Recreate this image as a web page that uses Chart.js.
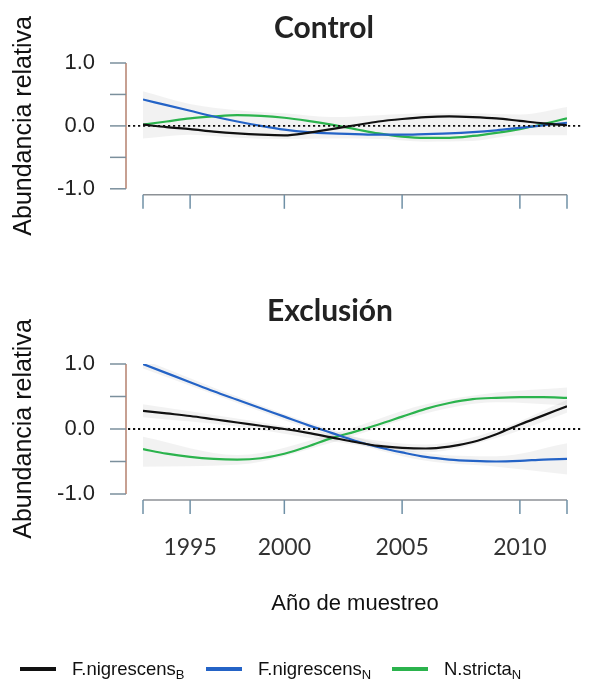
<!DOCTYPE html>
<html><head><meta charset="utf-8">
<script src="https://cdn.jsdelivr.net/npm/chart.js@4.4.1/dist/chart.umd.min.js"></script>
<style>
html,body{margin:0;padding:0;background:#fff;width:603px;height:680px;overflow:hidden;}
#wrapA{position:absolute;left:0;top:0;width:648px;height:250px;}
#wrapB{position:absolute;left:0;top:250px;width:660px;height:430px;}
#legend{position:absolute;left:0;top:655px;width:603px;height:28px;font-family:"Liberation Sans",Arial,sans-serif;font-size:18.5px;color:#111;}
.item{position:absolute;top:0;height:28px;display:flex;align-items:center;white-space:nowrap;}
.sw{display:inline-block;width:36px;height:3.5px;margin-right:16px;}
sub{font-size:13px;vertical-align:-4px;line-height:0;}
</style></head>
<body>
<div id="wrapA"><canvas id="cA" width="648" height="250"></canvas></div>
<div id="wrapB"><canvas id="cB" width="660" height="430"></canvas></div>
<div id="legend">
  <div class="item" style="left:20px"><span class="sw" style="background:#111111"></span><span>F.nigrescens<sub>B</sub></span></div>
  <div class="item" style="left:206px"><span class="sw" style="background:#2463c6"></span><span>F.nigrescens<sub>N</sub></span></div>
  <div class="item" style="left:392px"><span class="sw" style="background:#2bb34d"></span><span>N.stricta<sub>N</sub></span></div>
</div>
<script>
// ---------- data ----------
const years = [1994,1995,1996,1997,1998,1999,2000,2001,2002,2003,2004,2005,2006,2007,2008,2009,2010,2011,2012];

const controlFnB = [0.02,-0.02,-0.05,-0.09,-0.12,-0.14,-0.15,-0.11,-0.05,0.01,0.07,0.11,0.14,0.15,0.14,0.12,0.08,0.04,0.01];
const controlFnN = [0.42,0.33,0.24,0.15,0.07,0.00,-0.06,-0.10,-0.12,-0.13,-0.14,-0.14,-0.13,-0.12,-0.10,-0.07,-0.03,0.01,0.05];
const controlNsN = [0.02,0.07,0.12,0.15,0.17,0.16,0.13,0.08,0.02,-0.05,-0.12,-0.17,-0.19,-0.19,-0.16,-0.11,-0.05,0.03,0.12];

const exclFnB = [0.28,0.24,0.20,0.15,0.10,0.05,0.00,-0.06,-0.13,-0.20,-0.26,-0.29,-0.30,-0.27,-0.20,-0.08,0.07,0.21,0.35];
const exclFnN = [1.00,0.86,0.72,0.58,0.45,0.32,0.19,0.06,-0.06,-0.18,-0.28,-0.36,-0.43,-0.47,-0.49,-0.50,-0.49,-0.47,-0.46];
const exclNsN = [-0.31,-0.38,-0.43,-0.46,-0.47,-0.45,-0.38,-0.27,-0.14,-0.04,0.07,0.19,0.31,0.40,0.46,0.48,0.49,0.49,0.48];

// confidence bands
const ctrlBandYears = [1994,1996,1998,2000,2002,2004,2006,2008,2010,2012];
const ctrlBandUpper = [0.55,0.35,0.25,0.20,0.14,0.17,0.20,0.20,0.18,0.30];
const ctrlBandLower = [-0.20,-0.14,-0.19,-0.21,-0.20,-0.21,-0.25,-0.24,-0.15,-0.15];

const exclBandYears = [1994,1998,2002,2006,2009,2012];
const exclFnBUpper = [0.38,0.16,-0.07,-0.24,-0.02,0.45];
const exclFnBLower = [0.18,0.04,-0.19,-0.36,-0.14,0.25];
const exclFnNUpper = [1.07,0.50,-0.01,-0.37,-0.42,-0.22];
const exclFnNLower = [0.93,0.40,-0.11,-0.49,-0.58,-0.70];
const exclNsNUpper = [-0.12,-0.40,-0.08,0.38,0.56,0.64];
const exclNsNLower = [-0.58,-0.55,-0.21,0.24,0.41,0.36];

const xTickValues = [1994,1996,2000,2005,2010,2012];
const xTickLabels = ['','1995','2000','2005','2010',''];
const yTickValues = [-1,-0.5,0,0.5,1];
const yTickLabels = ['-1.0','','0.0','','1.0'];

const seriesNames = ['F.nigrescensB','F.nigrescensN','N.strictaN'];
const seriesColors = ['#111111','#2463c6','#2bb34d'];

// ---------- helpers ----------
function lineDS(label, vals, color){
  return {label, data: years.map((yr,i)=>({x:yr,y:vals[i]})), borderColor:color, borderWidth:2.2,
          pointRadius:0, fill:false, cubicInterpolationMode:'monotone', order:1};
}
function bandDS(bx, upper, lower){
  return [
    {label:'band', data: bx.map((v,i)=>({x:v,y:upper[i]})), borderColor:'rgba(0,0,0,0)', borderWidth:0,
     pointRadius:0, fill:'+1', backgroundColor:'rgba(0,0,0,0.05)', cubicInterpolationMode:'monotone', order:5},
    {label:'band', data: bx.map((v,i)=>({x:v,y:lower[i]})), borderColor:'rgba(0,0,0,0)', borderWidth:0,
     pointRadius:0, fill:false, cubicInterpolationMode:'monotone', order:5}
  ];
}

const axesPlugin = {
  id:'axesR',
  afterDatasetsDraw(chart){
    const {ctx, chartArea} = chart;
    const x = chart.scales.x, y = chart.scales.y;
    const ax = chartArea.left - 17;
    const ay = chartArea.bottom + 6;
    ctx.save();
    // dotted zero line
    const y0 = y.getPixelForValue(0);
    ctx.strokeStyle = '#111'; ctx.lineWidth = 1.8; ctx.setLineDash([2.2,2.8]);
    ctx.beginPath(); ctx.moveTo(ax + 2, y0); ctx.lineTo(chartArea.right + 15, y0); ctx.stroke();
    ctx.setLineDash([]);
    // y axis
    ctx.lineWidth = 1.5;
    ctx.strokeStyle = '#b5806e';
    ctx.beginPath();
    ctx.moveTo(ax, y.getPixelForValue(yTickValues[yTickValues.length-1]));
    ctx.lineTo(ax, y.getPixelForValue(yTickValues[0]));
    ctx.stroke();
    ctx.strokeStyle = '#7b8f9c';
    yTickValues.forEach(v=>{
      const p = y.getPixelForValue(v);
      ctx.beginPath(); ctx.moveTo(ax - 16, p); ctx.lineTo(ax, p); ctx.stroke();
    });
    // x axis
    ctx.strokeStyle = '#8c9196';
    ctx.beginPath();
    ctx.moveTo(x.getPixelForValue(xTickValues[0]), ay);
    ctx.lineTo(x.getPixelForValue(xTickValues[xTickValues.length-1]), ay);
    ctx.stroke();
    ctx.strokeStyle = '#6f90a6';
    xTickValues.forEach(v=>{
      const p = x.getPixelForValue(v);
      ctx.beginPath(); ctx.moveTo(p, ay); ctx.lineTo(p, ay + 14); ctx.stroke();
    });
    ctx.restore();
  }
};

function yScale(){
  return {
    min:-1, max:1,
    afterFit(s){ s.width = 143; },
    afterBuildTicks(s){ s.ticks = yTickValues.map(v=>({value:v})); },
    grid:{display:false, drawTicks:false},
    border:{display:false},
    ticks:{padding:48, autoSkip:false, color:'#222',
           font:{family:'Liberation Sans', size:22},
           callback:(v)=>{ const i = yTickValues.indexOf(v); return i>=0 ? yTickLabels[i] : ''; }},
    title:{display:true, text:'Abundancia relativa', color:'#111',
           font:{family:'Liberation Sans', size:25}, padding:{top:9, bottom:0}}
  };
}
// invisible right-hand spacer axis (keeps the plot right edge while centring the panel title)
function spacer(w){
  return {type:'linear', position:'right', display:true,
          afterFit(s){ s.width = w; },
          grid:{display:false, drawTicks:false}, border:{display:false},
          ticks:{display:false}, title:{display:false}};
}

function titleOpts(text, top, bottom){
  return {display:true, text, color:'#222', font:{family:'Lato', size:30, weight:'bold'},
          padding:{top, bottom}};
}

// ---------- chart A: Control ----------
new Chart(document.getElementById('cA'), {
  type:'line',
  data:{datasets:[
    lineDS(seriesNames[0], controlFnB, seriesColors[0]),
    lineDS(seriesNames[1], controlFnN, seriesColors[1]),
    lineDS(seriesNames[2], controlNsN, seriesColors[2]),
    ...bandDS(ctrlBandYears, ctrlBandUpper, ctrlBandLower)
  ]},
  options:{
    responsive:false, animation:false,
    layout:{padding:{left:0, right:0, top:0, bottom:57}},
    plugins:{legend:{display:false}, tooltip:{enabled:false}, title:titleOpts('Control', 10, 17)},
    scales:{
      x:{type:'linear', min:years[0], max:years[years.length-1], display:false},
      y:yScale(),
      ySpacer:spacer(81)
    }
  },
  plugins:[axesPlugin]
});

// ---------- chart B: Exclusión ----------
new Chart(document.getElementById('cB'), {
  type:'line',
  data:{datasets:[
    lineDS(seriesNames[0], exclFnB, seriesColors[0]),
    lineDS(seriesNames[1], exclFnN, seriesColors[1]),
    lineDS(seriesNames[2], exclNsN, seriesColors[2]),
    ...bandDS(exclBandYears, exclFnBUpper, exclFnBLower),
    ...bandDS(exclBandYears, exclFnNUpper, exclFnNLower),
    ...bandDS(exclBandYears, exclNsNUpper, exclNsNLower)
  ]},
  options:{
    responsive:false, animation:false,
    layout:{padding:{left:0, right:0, top:0, bottom:62.8}},
    plugins:{legend:{display:false}, tooltip:{enabled:false}, title:titleOpts('Exclusión', 43.5, 34.5)},
    scales:{
      x:{type:'linear', min:years[0], max:years[years.length-1],
         afterFit(s){ s.height = 123.2; },
         afterBuildTicks(s){ s.ticks = xTickValues.map(v=>({value:v})); },
         grid:{display:false, drawTicks:false}, border:{display:false},
         ticks:{padding:40.2, autoSkip:false, maxRotation:0, color:'#333',
                font:{family:'Lato', size:23},
                callback:(v)=>{ const i = xTickValues.indexOf(v); return i>=0 ? xTickLabels[i] : ''; }},
         title:{display:true, text:'Año de muestreo', color:'#111',
                font:{family:'Liberation Sans', size:22}, padding:{top:0, bottom:0}}},
      y:yScale(),
      ySpacer:spacer(93)
    }
  },
  plugins:[axesPlugin]
});
</script>
</body></html>
